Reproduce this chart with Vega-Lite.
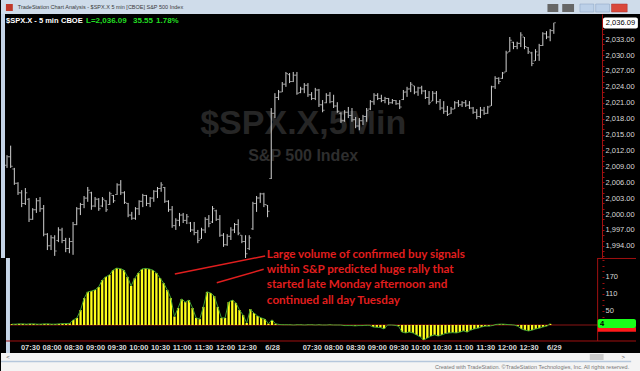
{
  "$schema": "https://vega.github.io/schema/vega-lite/v6.json",
  "background": "black",
  "padding": 0,
  "spacing": 0,
  "bounds": "flush",
  "config": {"view": {"stroke": null}, "font": "Liberation Sans", "axis": {"labelOverlap": false, "labelFlush": false, "labelBound": false, "title": null, "grid": false}},
  "datasets": {
    "bars": [
      {"n":0,"o":2009.2,"h":2011.1,"l":2008.7,"c":2010.8,"v":3},
      {"n":1,"o":2010.8,"h":2012.9,"l":2008.7,"c":2009.0,"v":3},
      {"n":2,"o":2008.5,"h":2008.7,"l":2005.5,"c":2005.8,"v":4},
      {"n":3,"o":2005.8,"h":2006.0,"l":2003.6,"c":2004.0,"v":4},
      {"n":4,"o":2004.0,"h":2004.5,"l":2001.3,"c":2002.0,"v":3},
      {"n":5,"o":2002.0,"h":2004.9,"l":2001.7,"c":2004.0,"v":4},
      {"n":6,"o":2002.8,"h":2003.0,"l":1998.5,"c":1999.0,"v":4},
      {"n":7,"o":1999.0,"h":2001.1,"l":1998.9,"c":2000.8,"v":3},
      {"n":8,"o":2000.8,"h":2003.0,"l":2000.2,"c":2002.5,"v":3},
      {"n":9,"o":2002.5,"h":2003.2,"l":2000.4,"c":2001.0,"v":4},
      {"n":10,"o":2001.0,"h":2001.7,"l":1995.8,"c":1996.2,"v":4},
      {"n":11,"o":1996.2,"h":1996.4,"l":1993.2,"c":1994.0,"v":3},
      {"n":12,"o":1994.0,"h":1996.0,"l":1993.2,"c":1995.5,"v":3},
      {"n":13,"o":1995.5,"h":1996.0,"l":1992.1,"c":1993.0,"v":4},
      {"n":14,"o":1995.0,"h":1997.5,"l":1994.7,"c":1997.0,"v":5},
      {"n":15,"o":1997.0,"h":1997.4,"l":1994.5,"c":1995.0,"v":5},
      {"n":16,"o":1995.0,"h":1995.5,"l":1992.8,"c":1993.5,"v":6},
      {"n":17,"o":1993.5,"h":1995.5,"l":1992.6,"c":1994.8,"v":18},
      {"n":18,"o":1994.8,"h":1998.5,"l":1992.3,"c":1998.0,"v":25},
      {"n":19,"o":1998.0,"h":2001.3,"l":1997.9,"c":2001.0,"v":53},
      {"n":20,"o":2001.0,"h":2002.1,"l":1999.8,"c":2001.8,"v":95},
      {"n":21,"o":2001.8,"h":2003.4,"l":2001.1,"c":2003.0,"v":117},
      {"n":22,"o":2003.0,"h":2005.1,"l":2002.3,"c":2004.5,"v":120},
      {"n":23,"o":2004.0,"h":2004.2,"l":2000.8,"c":2001.5,"v":124},
      {"n":24,"o":2001.5,"h":2003.2,"l":2001.3,"c":2002.8,"v":134},
      {"n":25,"o":2002.8,"h":2003.0,"l":2000.6,"c":2001.0,"v":159},
      {"n":26,"o":2001.5,"h":2003.2,"l":2001.3,"c":2002.8,"v":170},
      {"n":27,"o":2002.5,"h":2002.6,"l":2000.4,"c":2000.8,"v":177},
      {"n":28,"o":2001.8,"h":2004.2,"l":2001.7,"c":2003.8,"v":194},
      {"n":29,"o":2003.5,"h":2003.6,"l":2002.1,"c":2002.5,"v":201},
      {"n":30,"o":2003.7,"h":2005.8,"l":2003.6,"c":2005.5,"v":199},
      {"n":31,"o":2005.5,"h":2006.4,"l":2003.6,"c":2004.0,"v":194},
      {"n":32,"o":2004.0,"h":2004.3,"l":2001.9,"c":2002.2,"v":170},
      {"n":33,"o":2002.0,"h":2002.1,"l":1999.4,"c":1999.8,"v":138},
      {"n":34,"o":1999.8,"h":2000.4,"l":1998.9,"c":1999.2,"v":165},
      {"n":35,"o":1999.2,"h":2001.3,"l":1998.9,"c":2001.0,"v":184},
      {"n":36,"o":2001.0,"h":2002.6,"l":1999.8,"c":2002.4,"v":198},
      {"n":37,"o":2002.4,"h":2003.8,"l":2001.3,"c":2003.5,"v":200},
      {"n":38,"o":2003.5,"h":2003.6,"l":2001.5,"c":2002.0,"v":198},
      {"n":39,"o":2002.0,"h":2003.2,"l":2001.3,"c":2003.0,"v":194},
      {"n":40,"o":2003.0,"h":2004.5,"l":2002.3,"c":2004.3,"v":184},
      {"n":41,"o":2004.3,"h":2005.1,"l":2003.0,"c":2004.8,"v":166},
      {"n":42,"o":2004.8,"h":2006.0,"l":2004.2,"c":2005.5,"v":148},
      {"n":43,"o":2005.0,"h":2005.1,"l":2002.1,"c":2002.4,"v":124},
      {"n":44,"o":2002.4,"h":2002.6,"l":2000.4,"c":2000.8,"v":95},
      {"n":45,"o":2000.8,"h":2001.5,"l":1997.4,"c":1997.8,"v":30},
      {"n":46,"o":1997.8,"h":1999.2,"l":1997.0,"c":1998.8,"v":60},
      {"n":47,"o":1998.8,"h":2000.2,"l":1997.7,"c":1999.8,"v":92},
      {"n":48,"o":1999.8,"h":2000.2,"l":1998.3,"c":1998.8,"v":81},
      {"n":49,"o":1998.8,"h":2000.0,"l":1998.1,"c":1999.5,"v":88},
      {"n":50,"o":1998.3,"h":1998.5,"l":1996.6,"c":1997.0,"v":60},
      {"n":51,"o":1997.0,"h":1998.5,"l":1996.0,"c":1996.5,"v":25},
      {"n":52,"o":1996.5,"h":1997.0,"l":1994.5,"c":1995.0,"v":21},
      {"n":53,"o":1995.3,"h":1997.4,"l":1995.3,"c":1997.0,"v":64},
      {"n":54,"o":1997.0,"h":1999.4,"l":1996.4,"c":1999.0,"v":117},
      {"n":55,"o":1999.0,"h":1999.8,"l":1997.5,"c":1998.2,"v":113},
      {"n":56,"o":1998.5,"h":2001.5,"l":1998.3,"c":2001.0,"v":102},
      {"n":57,"o":2000.6,"h":2000.8,"l":1998.7,"c":1999.0,"v":64},
      {"n":58,"o":1999.0,"h":1999.8,"l":1995.7,"c":1996.0,"v":25},
      {"n":59,"o":1996.0,"h":1996.4,"l":1993.8,"c":1994.2,"v":25},
      {"n":60,"o":1994.2,"h":1996.2,"l":1994.0,"c":1995.8,"v":81},
      {"n":61,"o":1995.8,"h":1997.5,"l":1995.1,"c":1997.0,"v":88},
      {"n":62,"o":1997.0,"h":1998.3,"l":1996.4,"c":1998.0,"v":78},
      {"n":63,"o":1998.0,"h":1999.0,"l":1996.0,"c":1996.4,"v":53},
      {"n":64,"o":1996.0,"h":1996.0,"l":1994.5,"c":1994.8,"v":35},
      {"n":65,"o":1994.8,"h":1996.0,"l":1991.7,"c":1992.5,"v":7},
      {"n":66,"o":1993.5,"h":1996.0,"l":1993.2,"c":1995.5,"v":56},
      {"n":67,"o":1997.2,"h":2002.3,"l":1997.0,"c":2002.0,"v":42},
      {"n":68,"o":2002.0,"h":2003.4,"l":2000.4,"c":2003.0,"v":32},
      {"n":69,"o":2003.0,"h":2004.0,"l":2002.1,"c":2003.8,"v":25},
      {"n":70,"o":2003.8,"h":2004.0,"l":2001.3,"c":2001.8,"v":21},
      {"n":71,"o":2001.7,"h":2001.7,"l":1999.4,"c":2000.5,"v":5},
      {"n":72,"o":2006.7,"h":2020.0,"l":2006.6,"c":2019.0,"v":18},
      {"n":73,"o":2019.0,"h":2022.8,"l":2018.1,"c":2022.0,"v":4},
      {"n":74,"o":2022.0,"h":2023.4,"l":2021.5,"c":2023.0,"v":2},
      {"n":75,"o":2023.0,"h":2024.9,"l":2023.0,"c":2024.5,"v":1},
      {"n":76,"o":2024.5,"h":2026.8,"l":2024.0,"c":2026.5,"v":1},
      {"n":77,"o":2026.3,"h":2026.6,"l":2024.7,"c":2025.0,"v":1},
      {"n":78,"o":2025.0,"h":2026.8,"l":2024.9,"c":2026.2,"v":0},
      {"n":79,"o":2026.2,"h":2026.8,"l":2022.5,"c":2022.8,"v":1},
      {"n":80,"o":2022.9,"h":2024.0,"l":2022.8,"c":2023.6,"v":1},
      {"n":81,"o":2023.6,"h":2024.7,"l":2022.8,"c":2024.3,"v":0},
      {"n":82,"o":2024.3,"h":2024.7,"l":2022.1,"c":2022.5,"v":1},
      {"n":83,"o":2022.5,"h":2023.0,"l":2021.5,"c":2021.8,"v":1},
      {"n":84,"o":2021.8,"h":2023.8,"l":2021.5,"c":2023.4,"v":0},
      {"n":85,"o":2023.4,"h":2023.6,"l":2020.2,"c":2020.6,"v":1},
      {"n":86,"o":2020.6,"h":2021.5,"l":2019.2,"c":2019.6,"v":0},
      {"n":87,"o":2021.0,"h":2022.8,"l":2020.9,"c":2022.4,"v":0},
      {"n":88,"o":2022.4,"h":2023.0,"l":2020.9,"c":2021.2,"v":1},
      {"n":89,"o":2021.2,"h":2022.5,"l":2020.0,"c":2020.4,"v":0},
      {"n":90,"o":2020.4,"h":2021.1,"l":2019.1,"c":2019.4,"v":0},
      {"n":91,"o":2019.0,"h":2019.2,"l":2017.2,"c":2017.6,"v":0},
      {"n":92,"o":2017.6,"h":2019.6,"l":2017.4,"c":2019.2,"v":-2},
      {"n":93,"o":2019.2,"h":2020.2,"l":2018.1,"c":2018.6,"v":-2},
      {"n":94,"o":2018.6,"h":2020.0,"l":2017.4,"c":2017.8,"v":-2},
      {"n":95,"o":2017.8,"h":2018.3,"l":2016.2,"c":2016.6,"v":-3},
      {"n":96,"o":2016.6,"h":2018.1,"l":2015.8,"c":2017.6,"v":-2},
      {"n":97,"o":2017.6,"h":2018.7,"l":2016.8,"c":2018.4,"v":-2},
      {"n":98,"o":2018.4,"h":2020.0,"l":2017.4,"c":2019.6,"v":-1},
      {"n":99,"o":2019.8,"h":2021.5,"l":2019.6,"c":2021.2,"v":-1},
      {"n":100,"o":2021.2,"h":2022.8,"l":2020.6,"c":2022.4,"v":-7},
      {"n":101,"o":2022.4,"h":2022.8,"l":2021.5,"c":2021.8,"v":-8},
      {"n":102,"o":2021.8,"h":2022.5,"l":2021.1,"c":2021.4,"v":-9},
      {"n":103,"o":2021.4,"h":2022.1,"l":2020.9,"c":2021.8,"v":-14},
      {"n":104,"o":2021.8,"h":2021.9,"l":2020.6,"c":2021.0,"v":0},
      {"n":105,"o":2021.0,"h":2021.7,"l":2020.8,"c":2021.4,"v":0},
      {"n":106,"o":2021.4,"h":2021.5,"l":2020.6,"c":2020.8,"v":-1},
      {"n":107,"o":2020.8,"h":2021.5,"l":2019.8,"c":2020.2,"v":-4},
      {"n":108,"o":2021.6,"h":2023.4,"l":2021.5,"c":2023.0,"v":-25},
      {"n":109,"o":2023.0,"h":2024.0,"l":2022.1,"c":2023.6,"v":-28},
      {"n":110,"o":2023.6,"h":2024.9,"l":2023.0,"c":2024.5,"v":-25},
      {"n":111,"o":2024.2,"h":2024.2,"l":2022.6,"c":2023.0,"v":-28},
      {"n":112,"o":2023.0,"h":2024.0,"l":2022.3,"c":2023.8,"v":-35},
      {"n":113,"o":2023.8,"h":2024.2,"l":2022.6,"c":2023.2,"v":-42},
      {"n":114,"o":2023.2,"h":2023.4,"l":2021.7,"c":2022.0,"v":-53},
      {"n":115,"o":2022.0,"h":2023.2,"l":2020.6,"c":2021.0,"v":-46},
      {"n":116,"o":2021.3,"h":2023.2,"l":2021.3,"c":2022.8,"v":-39},
      {"n":117,"o":2022.8,"h":2023.2,"l":2020.8,"c":2021.2,"v":-35},
      {"n":118,"o":2021.2,"h":2021.7,"l":2019.6,"c":2020.0,"v":-39},
      {"n":119,"o":2020.0,"h":2021.3,"l":2018.9,"c":2019.4,"v":-35},
      {"n":120,"o":2019.4,"h":2020.4,"l":2018.5,"c":2018.8,"v":-30},
      {"n":121,"o":2018.9,"h":2020.2,"l":2018.9,"c":2019.8,"v":-28},
      {"n":122,"o":2019.8,"h":2021.3,"l":2019.8,"c":2021.0,"v":-27},
      {"n":123,"o":2021.0,"h":2021.5,"l":2020.2,"c":2020.6,"v":-28},
      {"n":124,"o":2020.6,"h":2021.3,"l":2020.2,"c":2021.0,"v":-25},
      {"n":125,"o":2021.0,"h":2021.5,"l":2020.2,"c":2020.5,"v":-21},
      {"n":126,"o":2020.5,"h":2021.3,"l":2019.8,"c":2020.0,"v":-25},
      {"n":127,"o":2020.0,"h":2020.2,"l":2018.9,"c":2019.2,"v":-18},
      {"n":128,"o":2019.2,"h":2019.8,"l":2017.9,"c":2018.4,"v":-14},
      {"n":129,"o":2018.4,"h":2020.2,"l":2018.1,"c":2019.6,"v":-11},
      {"n":130,"o":2019.6,"h":2020.2,"l":2018.7,"c":2019.0,"v":-7},
      {"n":131,"o":2019.0,"h":2020.4,"l":2018.9,"c":2020.2,"v":-4},
      {"n":132,"o":2020.4,"h":2024.2,"l":2020.4,"c":2024.0,"v":-4},
      {"n":133,"o":2024.0,"h":2026.0,"l":2023.6,"c":2025.6,"v":-2},
      {"n":134,"o":2025.6,"h":2025.8,"l":2024.5,"c":2025.0,"v":2},
      {"n":135,"o":2025.6,"h":2026.8,"l":2025.5,"c":2026.6,"v":3},
      {"n":136,"o":2026.8,"h":2030.8,"l":2026.8,"c":2030.4,"v":3},
      {"n":137,"o":2030.6,"h":2033.4,"l":2030.6,"c":2032.8,"v":2},
      {"n":138,"o":2032.4,"h":2032.5,"l":2031.1,"c":2031.6,"v":1},
      {"n":139,"o":2031.6,"h":2032.5,"l":2031.1,"c":2032.2,"v":0},
      {"n":140,"o":2032.2,"h":2034.3,"l":2031.5,"c":2033.8,"v":-4},
      {"n":141,"o":2033.4,"h":2033.4,"l":2031.1,"c":2031.6,"v":-14},
      {"n":142,"o":2031.4,"h":2031.5,"l":2030.2,"c":2030.6,"v":-18},
      {"n":143,"o":2030.4,"h":2030.6,"l":2027.9,"c":2028.4,"v":-21},
      {"n":144,"o":2028.9,"h":2031.1,"l":2028.9,"c":2030.6,"v":-18},
      {"n":145,"o":2030.0,"h":2032.1,"l":2028.9,"c":2031.8,"v":-14},
      {"n":146,"o":2031.8,"h":2034.3,"l":2031.7,"c":2034.0,"v":-11},
      {"n":147,"o":2034.0,"h":2034.5,"l":2033.0,"c":2033.4,"v":-7},
      {"n":148,"o":2033.4,"h":2034.9,"l":2032.6,"c":2034.6,"v":-4},
      {"n":149,"o":2034.6,"h":2036.09,"l":2034.0,"c":2036.09,"v":4}
    ]
  },
  "vconcat": [
    {
      "width": 640,
      "height": 14,
      "view": {"fill": "#cfdcea"},
      "data": {"values": [{}]},
      "layer": [
        {
          "mark": {"type": "text", "align": "left", "baseline": "middle", "fontSize": 5.5, "color": "#3a3a3a"},
          "encoding": {
            "x": {"datum": 17, "type": "quantitative", "scale": {"domain": [0, 640]}, "axis": null},
            "y": {"datum": 7, "type": "quantitative", "scale": {"domain": [0, 14], "reverse": true}, "axis": null},
            "text": {"value": "TradeStation Chart Analysis - $SPX.X 5 min [CBOE] S&P 500 Index"}
          }
        },
        {
          "mark": {"type": "rect", "fill": "#c0392b"},
          "encoding": {
            "x": {"datum": 5, "type": "quantitative"}, "x2": {"datum": 12},
            "y": {"datum": 4, "type": "quantitative"}, "y2": {"datum": 11}
          }
        },
        {
          "mark": {"type": "rect", "fill": "#666666"},
          "encoding": {
            "x": {"datum": 555, "type": "quantitative"}, "x2": {"datum": 566},
            "y": {"datum": 4, "type": "quantitative"}, "y2": {"datum": 12}
          }
        },
        {
          "mark": {"type": "rect", "fill": "#666666"},
          "encoding": {
            "x": {"datum": 570, "type": "quantitative"}, "x2": {"datum": 582},
            "y": {"datum": 4, "type": "quantitative"}, "y2": {"datum": 12}
          }
        },
        {
          "mark": {"type": "rect", "fill": "#bcd0e8", "stroke": "#8ba3c2", "strokeWidth": 0.5},
          "encoding": {
            "x": {"datum": 588, "type": "quantitative"}, "x2": {"datum": 602},
            "y": {"datum": 4, "type": "quantitative"}, "y2": {"datum": 12}
          }
        },
        {
          "mark": {"type": "rect", "fill": "#bcd0e8", "stroke": "#8ba3c2", "strokeWidth": 0.5},
          "encoding": {
            "x": {"datum": 604, "type": "quantitative"}, "x2": {"datum": 618},
            "y": {"datum": 4, "type": "quantitative"}, "y2": {"datum": 12}
          }
        },
        {
          "mark": {"type": "rect", "fill": "#d9473a", "stroke": "#a33", "strokeWidth": 0.5},
          "encoding": {
            "x": {"datum": 620, "type": "quantitative"}, "x2": {"datum": 636},
            "y": {"datum": 4, "type": "quantitative"}, "y2": {"datum": 12}
          }
        }
      ]
    },
    {
      "width": 640,
      "height": 244,
      "view": {"fill": "black"},
      "layer": [
        {
          "data": {"values": [{}]},
          "mark": {"type": "text", "align": "center", "baseline": "middle", "fontSize": 34, "fontWeight": "bold", "color": "#262626"},
          "encoding": {
            "x": {"datum": 80.7, "type": "quantitative", "scale": {"domain": [-1.635, 172.75], "nice": false, "zero": false}, "axis": null},
            "y": {"datum": 2017.0, "type": "quantitative", "scale": {"domain": [1991.7, 2037.74], "nice": false, "zero": false},
              "axis": {
                "orient": "right", "offset": -39, "title": null, "grid": false, "tickCount": 200,
                "values": [1992,1993,1994,1995,1996,1997,1998,1999,2000,2001,2002,2003,2004,2005,2006,2007,2008,2009,2010,2011,2012,2013,2014,2015,2016,2017,2018,2019,2020,2021,2022,2023,2024,2025,2026,2027,2028,2029,2030,2031,2032,2033,2034,2035],
                "labelExpr": "datum.value % 3 == 2 ? format(datum.value, ',.2f') : ''",
                "domainColor": "#a01010", "tickColor": "#a01010", "tickSize": 2,
                "labelColor": "#d8d8d8", "labelFontSize": 7.5, "labelPadding": 1,
                "labelOverlap": false, "labelFlush": false, "labelBound": false
              }
            },
            "text": {"value": "$SPX.X,5Min"}
          }
        },
        {
          "data": {"values": [{}]},
          "mark": {"type": "text", "align": "center", "baseline": "middle", "fontSize": 16, "fontWeight": "bold", "color": "#2e2e2e"},
          "encoding": {
            "x": {"datum": 80.7, "type": "quantitative"},
            "y": {"datum": 2010.9, "type": "quantitative"},
            "text": {"value": "S&P 500 Index"}
          }
        },
        {
          "data": {"values": [{}]},
          "mark": {"type": "rule", "color": "#c5d4e6", "strokeWidth": 4},
          "encoding": {
            "x": {"datum": -1.09, "type": "quantitative"},
            "y": {"datum": 1991.7, "type": "quantitative"}, "y2": {"datum": 2037.74}
          }
        },
        {
          "data": {"name": "bars"},
          "mark": {"type": "rule", "color": "#d2d2d2", "strokeWidth": 1},
          "encoding": {
            "x": {"field": "n", "type": "quantitative"},
            "y": {"field": "l", "type": "quantitative"},
            "y2": {"field": "h"}
          }
        },
        {
          "data": {"name": "bars"},
          "mark": {"type": "tick", "orient": "horizontal", "size": 1.5, "thickness": 1, "xOffset": -1.2, "color": "#d2d2d2"},
          "encoding": {
            "x": {"field": "n", "type": "quantitative"},
            "y": {"field": "o", "type": "quantitative"}
          }
        },
        {
          "data": {"name": "bars"},
          "mark": {"type": "tick", "orient": "horizontal", "size": 1.5, "thickness": 1, "xOffset": 1.2, "color": "#d2d2d2"},
          "encoding": {
            "x": {"field": "n", "type": "quantitative"},
            "y": {"field": "c", "type": "quantitative"}
          }
        },
        {
          "data": {"values": [{}]},
          "mark": {"type": "text", "align": "left", "baseline": "middle", "fontSize": 7.5, "fontWeight": "bold", "color": "#ffffff"},
          "encoding": {
            "x": {"datum": -0.27, "type": "quantitative"},
            "y": {"datum": 2036.42, "type": "quantitative"},
            "text": {"value": "$SPX.X - 5 min"}
          }
        },
        {
          "data": {"values": [{}]},
          "mark": {"type": "text", "align": "left", "baseline": "middle", "fontSize": 7.5, "fontWeight": "bold", "color": "#ffffff"},
          "encoding": {
            "x": {"datum": 14.71, "type": "quantitative"},
            "y": {"datum": 2036.42, "type": "quantitative"},
            "text": {"value": "CBOE"}
          }
        },
        {
          "data": {"values": [{}]},
          "mark": {"type": "text", "align": "left", "baseline": "middle", "fontSize": 8, "fontWeight": "bold", "color": "#22dd22"},
          "encoding": {
            "x": {"datum": 21.53, "type": "quantitative"},
            "y": {"datum": 2036.42, "type": "quantitative"},
            "text": {"value": "L=2,036.09"}
          }
        },
        {
          "data": {"values": [{}]},
          "mark": {"type": "text", "align": "left", "baseline": "middle", "fontSize": 8, "fontWeight": "bold", "color": "#22dd22"},
          "encoding": {
            "x": {"datum": 34.33, "type": "quantitative"},
            "y": {"datum": 2036.42, "type": "quantitative"},
            "text": {"value": "35.55"}
          }
        },
        {
          "data": {"values": [{}]},
          "mark": {"type": "text", "align": "left", "baseline": "middle", "fontSize": 8, "fontWeight": "bold", "color": "#22dd22"},
          "encoding": {
            "x": {"datum": 40.6, "type": "quantitative"},
            "y": {"datum": 2036.42, "type": "quantitative"},
            "text": {"value": "1.78%"}
          }
        },
        {
          "data": {"values": [{}]},
          "mark": {"type": "rect", "fill": "#ffffff", "cornerRadius": 2},
          "encoding": {
            "x": {"datum": 162.4, "type": "quantitative"}, "x2": {"datum": 171.9},
            "y": {"datum": 2037.08, "type": "quantitative"}, "y2": {"datum": 2035.0}
          }
        },
        {
          "data": {"values": [{}]},
          "mark": {"type": "text", "align": "center", "baseline": "middle", "fontSize": 7.5, "color": "#000000"},
          "encoding": {
            "x": {"datum": 167.15, "type": "quantitative"},
            "y": {"datum": 2036.05, "type": "quantitative"},
            "text": {"value": "2,036.09"}
          }
        }
      ]
    },
    {
      "width": 640,
      "height": 95,
      "view": {"fill": "black"},
      "layer": [
        {
          "data": {"values": [{}]},
          "mark": {"type": "rule", "color": "#8b1414", "strokeWidth": 1},
          "encoding": {
            "x": {"datum": -1.635, "type": "quantitative", "scale": {"domain": [-1.635, 172.75], "nice": false, "zero": false},
              "axis": {
                "orient": "bottom", "offset": -12, "title": null, "grid": false, "domain": false, "ticks": false, "tickCount": 200,
                "values": [5,11,17,23,29,35,41,47,53,59,65,72,83,89,95,101,107,113,119,125,131,137,143,150],
                "labelExpr": "['07:30','08:00','08:30','09:00','09:30','10:00','10:30','11:00','11:30','12:00','12:30','6/28','07:30','08:00','08:30','09:00','09:30','10:00','10:30','11:00','11:30','12:00','12:30','6/29'][indexof([5,11,17,23,29,35,41,47,53,59,65,72,83,89,95,101,107,113,119,125,131,137,143,150], datum.value)]",
                "labelColor": "#d8d8d8", "labelFontSize": 7.5, "labelFontWeight": "bold", "labelPadding": 2,
                "labelOverlap": false, "labelFlush": false, "labelBound": false
              }
            },
            "x2": {"datum": 162.13},
            "y": {"datum": 0, "type": "quantitative", "scale": {"domain": [-98.9, 236.7], "nice": false, "zero": false},
              "axis": {
                "orient": "right", "offset": -39, "title": null, "grid": false, "domain": false, "tickCount": 200,
                "values": [10,30,50,70,90,110,130,150,170,190,210,230],
                "labelExpr": "(datum.value == 50 || datum.value == 110 || datum.value == 170) ? format(datum.value, 'd') : ''",
                "tickColor": "#a01010", "tickSize": 2,
                "labelColor": "#d8d8d8", "labelFontSize": 7.5, "labelPadding": 1,
                "labelOverlap": false, "labelFlush": false, "labelBound": false
              }
            }
          }
        },
        {
          "data": {"values": [{}]},
          "mark": {"type": "rule", "color": "#c5d4e6", "strokeWidth": 4},
          "encoding": {
            "x": {"datum": -1.09, "type": "quantitative"},
            "y": {"datum": -98.9, "type": "quantitative"}, "y2": {"datum": 236.7}
          }
        },
        {
          "data": {"name": "bars"},
          "mark": {"type": "bar", "color": "#ffff1a", "size": 2.3},
          "encoding": {
            "x": {"field": "n", "type": "quantitative"},
            "y": {"field": "v", "type": "quantitative"},
            "y2": {"datum": 0}
          }
        },
        {
          "data": {"name": "bars"},
          "mark": {"type": "line", "color": "#3e9e32", "strokeWidth": 1},
          "encoding": {
            "x": {"field": "n", "type": "quantitative"},
            "y": {"field": "v", "type": "quantitative"}
          }
        },
        {
          "data": {"values": [{}]},
          "mark": {"type": "rule", "color": "#a01010", "strokeWidth": 1},
          "encoding": {
            "x": {"datum": -1.635, "type": "quantitative"}, "x2": {"datum": 172.75},
            "y": {"datum": -56.5, "type": "quantitative"}
          }
        },
        {
          "data": {"values": [{}]},
          "mark": {"type": "rule", "color": "#a01010", "strokeWidth": 1},
          "encoding": {
            "x": {"datum": 162.13, "type": "quantitative"},
            "y": {"datum": 236.7, "type": "quantitative"}, "y2": {"datum": -56.5}
          }
        },
        {
          "data": {"values": [{}]},
          "mark": {"type": "rule", "color": "#a01010", "strokeWidth": 1},
          "encoding": {
            "x": {"datum": 162.13, "type": "quantitative"}, "x2": {"datum": 172.75},
            "y": {"datum": 235, "type": "quantitative"}
          }
        },
        {
          "data": {"values": [{}]},
          "mark": {"type": "rect", "fill": "#ff1a1a"},
          "encoding": {
            "x": {"datum": 162.13, "type": "quantitative"}, "x2": {"datum": 172.75},
            "y": {"datum": -8, "type": "quantitative"}, "y2": {"datum": -24}
          }
        },
        {
          "data": {"values": [{}]},
          "mark": {"type": "rect", "fill": "#1aff1a", "cornerRadius": 2},
          "encoding": {
            "x": {"datum": 162.13, "type": "quantitative"}, "x2": {"datum": 172.75},
            "y": {"datum": 21, "type": "quantitative"}, "y2": {"datum": -10.6}
          }
        },
        {
          "data": {"values": [{}]},
          "mark": {"type": "text", "align": "left", "baseline": "middle", "fontSize": 7.5, "fontWeight": "bold", "color": "#000000"},
          "encoding": {
            "x": {"datum": 162.8, "type": "quantitative"},
            "y": {"datum": 5, "type": "quantitative"},
            "text": {"value": "4"}
          }
        },
        {
          "data": {"values": [{}]},
          "mark": {"type": "rule", "color": "#e01e1e", "strokeWidth": 1.5},
          "encoding": {
            "x": {"datum": 45.1, "type": "quantitative"}, "x2": {"datum": 70.1},
            "y": {"datum": 180, "type": "quantitative"}, "y2": {"datum": 244}
          }
        },
        {
          "data": {"values": [{}]},
          "mark": {"type": "rule", "color": "#e01e1e", "strokeWidth": 1.5},
          "encoding": {
            "x": {"datum": 56.7, "type": "quantitative"}, "x2": {"datum": 69.7},
            "y": {"datum": 149, "type": "quantitative"}, "y2": {"datum": 197}
          }
        },
        {
          "data": {"values": [{}]},
          "mark": {"type": "text", "align": "left", "baseline": "alphabetic", "fontSize": 11.7, "fontWeight": "bold", "font": "Lato", "color": "#e01e1e", "lineBreak": "\n", "lineHeight": 15.2},
          "encoding": {
            "x": {"datum": 70.57, "type": "quantitative"},
            "y": {"datum": 236.7, "type": "quantitative"},
            "text": {"value": "Large volume of confirmed buy signals\nwithin S&P predicted huge rally that\nstarted late Monday afternoon and\ncontinued all day Tuesday"}
          }
        }
      ]
    },
    {
      "width": 640,
      "height": 18,
      "view": {"fill": "#f4f4f4"},
      "data": {"values": [{}]},
      "layer": [
        {
          "mark": {"type": "rect", "fill": "#cdcdcd"},
          "encoding": {
            "x": {"datum": 598, "type": "quantitative", "scale": {"domain": [0, 640]}, "axis": null},
            "x2": {"datum": 612},
            "y": {"datum": 1, "type": "quantitative", "scale": {"domain": [0, 18], "reverse": true}, "axis": null},
            "y2": {"datum": 7}
          }
        },
        {
          "mark": {"type": "rule", "color": "#b5c7dc", "strokeWidth": 1.5},
          "encoding": {
            "x": {"datum": 0, "type": "quantitative"}, "x2": {"datum": 640},
            "y": {"datum": 8.5, "type": "quantitative"}
          }
        },
        {
          "mark": {"type": "text", "align": "center", "baseline": "middle", "fontSize": 6, "color": "#555555"},
          "encoding": {
            "x": {"datum": 7, "type": "quantitative"},
            "y": {"datum": 4, "type": "quantitative"},
            "text": {"value": "<"}
          }
        },
        {
          "mark": {"type": "text", "align": "center", "baseline": "middle", "fontSize": 6, "color": "#555555"},
          "encoding": {
            "x": {"datum": 632, "type": "quantitative"},
            "y": {"datum": 4, "type": "quantitative"},
            "text": {"value": ">"}
          }
        },
        {
          "mark": {"type": "text", "align": "right", "baseline": "middle", "fontSize": 5.5, "color": "#777777"},
          "encoding": {
            "x": {"datum": 638, "type": "quantitative"},
            "y": {"datum": 14, "type": "quantitative"},
            "text": {"value": "Created with TradeStation. ©TradeStation Technologies, Inc. All rights reserved."}
          }
        }
      ]
    }
  ]
}
